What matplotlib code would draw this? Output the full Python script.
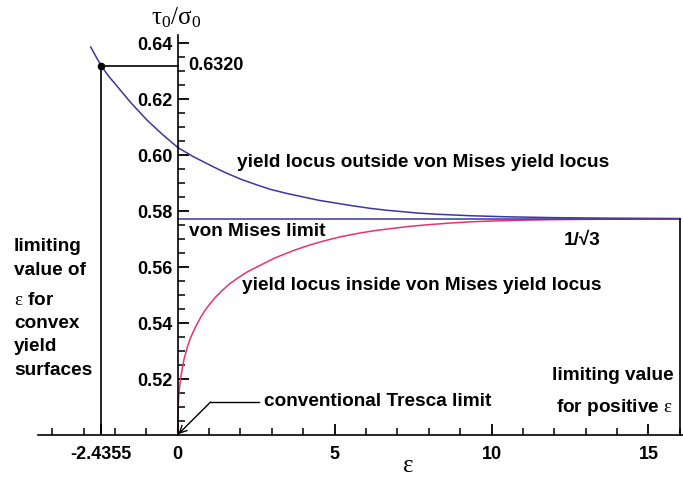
import matplotlib.pyplot as plt

# values
outside_eps = [-2.77, -2.6, -2.4355, -2.2, -1.82, -1.5, -0.97, -0.5, 0.0, 0.5,
               1.15, 1.5, 2.0, 2.5, 2.96, 3.5, 4.0, 4.5, 5.1, 5.6, 6.15, 6.7,
               7.2, 7.7, 8.3, 9.3, 10.5, 12.0, 14.0, 16.0]
outside_tau = [0.6387, 0.6352, 0.6320, 0.6283, 0.6232, 0.6189, 0.6125, 0.6076,
               0.6028, 0.5995, 0.5958, 0.5939, 0.5915, 0.5895, 0.5878, 0.5863,
               0.5851, 0.5839, 0.5828, 0.5819, 0.5810, 0.5803, 0.5798, 0.5793,
               0.5789, 0.5784, 0.5780, 0.5777, 0.5775, 0.5774]

inside_eps = [0.0, 0.005, 0.01, 0.02, 0.04, 0.07, 0.1, 0.15, 0.2, 0.31, 0.4,
              0.5, 0.6, 0.73, 0.85, 1.0, 1.2, 1.4, 1.65, 1.9, 2.2, 2.6, 3.1,
              3.7, 4.2, 4.7, 5.2, 5.8, 6.3, 6.8, 7.4, 8.0, 8.6, 9.3, 10.0, 11.0,
              12.0, 13.0, 14.5, 16.0]
inside_tau = [0.5000, 0.5055, 0.5075, 0.5105, 0.5150, 0.5180, 0.5205, 0.5240,
              0.5270, 0.5315, 0.5345, 0.5370, 0.5393, 0.5420, 0.5442, 0.5465,
              0.5492, 0.5515, 0.5540, 0.5560, 0.5582, 0.5605, 0.5633, 0.5660,
              0.5679, 0.5695, 0.5709, 0.5722, 0.5731, 0.5738, 0.5746, 0.5752,
              0.5757, 0.5762, 0.5765, 0.5768, 0.5770, 0.5771, 0.5772, 0.5773]

von_mises_tau = 0.57735
tresca_tau = 0.5
convex_eps = -2.4355
convex_tau = 0.6320
positive_eps = 16.0

x_major = [-2.4355, 0, 5, 10, 15]
x_major_labels = ["-2.4355", "0", "5", "10", "15"]
x_minor = [-4, -3, -2, -1, 1, 2, 3, 4, 6, 7, 8, 9, 11, 12, 13, 14, 16]
y_major = [0.52, 0.54, 0.56, 0.58, 0.60, 0.62, 0.64]
y_major_labels = ["0.52", "0.54", "0.56", "0.58", "0.60", "0.62", "0.64"]
y_minor = [0.505, 0.51, 0.515, 0.525, 0.53, 0.535, 0.545, 0.55, 0.555, 0.565,
           0.57, 0.575, 0.585, 0.59, 0.595, 0.605, 0.61, 0.615, 0.625, 0.63,
           0.635]

BLUE = "#3b36a6"
PINK = "#e8336f"

plt.rcParams.update(
    {
        "font.family": ["Liberation Sans", "DejaVu Sans"],
        "mathtext.fontset": "custom",
        "mathtext.rm": "Liberation Serif:weight=normal",
        "mathtext.it": "Liberation Serif:weight=normal",
        "mathtext.bf": "Liberation Serif:weight=normal",
    }
)

fig = plt.figure(figsize=(6.83, 4.8), dpi=100)
ax = fig.add_axes([38 / 683, 45 / 480, 645 / 683, 400 / 480])
ax.set_xlim(-4.45, 16.1)
ax.set_ylim(0.5, 0.643)

for side in ("top", "right"):
    ax.spines[side].set_visible(False)
ax.spines["left"].set_position(("data", 0))
ax.spines["left"].set_linewidth(1.2)
ax.spines["bottom"].set_linewidth(1.2)

ax.set_xticks(x_major)
ax.set_xticks(x_minor, minor=True)
ax.set_yticks(y_major)
ax.set_yticks(y_minor, minor=True)
ax.tick_params(which="major", direction="in", color="black", length=8, width=1.3)
ax.tick_params(which="minor", direction="in", color="black", length=5, width=1.1)
ax.tick_params(axis="x", which="major", pad=8)
ax.set_xticklabels(x_major_labels, fontsize=13, fontweight="bold")
ax.set_yticklabels(y_major_labels, fontsize=13, fontweight="bold")

# curves and limit lines
ax.plot(outside_eps, outside_tau, color=BLUE, linewidth=1.1)
ax.plot(inside_eps, inside_tau, color=PINK, linewidth=1.1)
ax.plot([0, positive_eps], [von_mises_tau, von_mises_tau], color=BLUE, linewidth=1.1)
ax.plot([convex_eps, 0], [convex_tau, convex_tau], color="black", linewidth=1.2)
ax.plot([convex_eps, convex_eps], [tresca_tau, convex_tau], color="black", linewidth=1.2)
ax.plot([positive_eps, positive_eps], [tresca_tau, von_mises_tau], color="black",
        linewidth=1.2, clip_on=False)
ax.plot(convex_eps, convex_tau, "o", color="black", markersize=4.5)

# Tresca arrow
ax.plot([1.05, 2.58], [0.5118, 0.5118], color="black", linewidth=1.0)
ax.annotate(
    "",
    xy=(0.02, tresca_tau + 0.0003),
    xytext=(1.05, 0.5118),
    arrowprops=dict(arrowstyle="->", color="black", linewidth=1.0,
                    mutation_scale=13, shrinkA=0, shrinkB=0),
)

text_kw = dict(fontsize=13.7, fontweight="bold", clip_on=False)
ax.text(0.35, convex_tau, "0.6320", fontsize=13, fontweight="bold", va="center")
ax.text(1.88, 0.5975, "yield locus outside von Mises yield locus", va="center", **text_kw)
ax.text(0.35, 0.5729, "von Mises limit", va="center", **text_kw)
ax.text(13.47, 0.5696, "1/\u221a3", va="center", ha="right", **text_kw)
ax.text(2.04, 0.5536, "yield locus inside von Mises yield locus", va="center", **text_kw)
ax.text(2.74, 0.5118, "conventional Tresca limit", va="center", **text_kw)
ax.text(15.8, 0.5214, "limiting value", va="center", ha="right", **text_kw)
ax.text(15.8, 0.5100, r"for positive $\mathrm{\varepsilon}$", va="center", ha="right", **text_kw)

left_lines = ["limiting", "value of", r"$\mathrm{\varepsilon}$ for", "convex", "yield", "surfaces"]
left_rows = [246.7, 270, 300, 323, 346.7, 370]
for line, row in zip(left_lines, left_rows):
    ax.text(-5.22, 0.64 - (row - 43) / 2800, line, va="center", **text_kw)

ax.text(7.32, 0.4893, r"$\mathrm{\varepsilon}$", fontsize=18, ha="center", va="center",
        clip_on=False)
ax.text(-0.06, 0.6493, r"$\mathrm{\tau_0/\sigma_0}$", fontsize=18, ha="center",
        va="center", clip_on=False)

fig.savefig("out.png", dpi=100)
